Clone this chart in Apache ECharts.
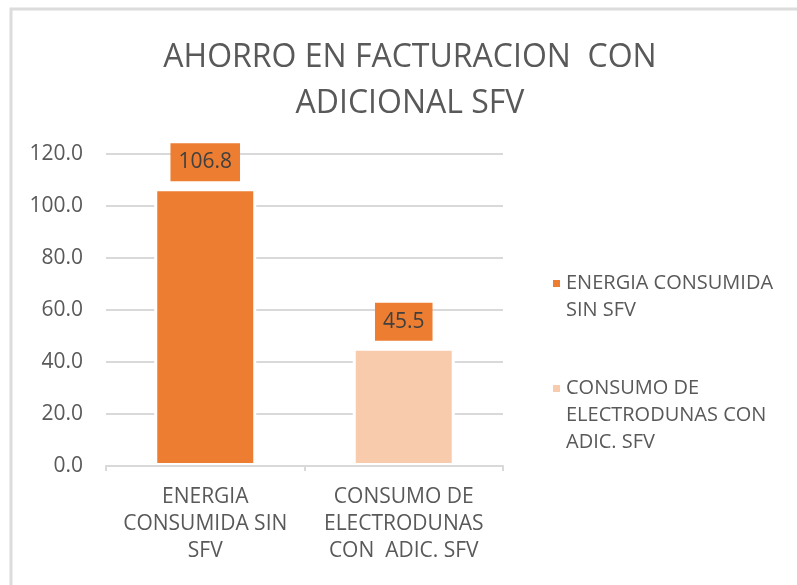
<!DOCTYPE html>
<html>
<head>
<meta charset="utf-8">
<script src="https://cdn.jsdelivr.net/npm/echarts@6/dist/echarts.min.js"></script>
<style>
html,body{margin:0;padding:0;background:#fff;}
#c{width:797px;height:585px;}
</style>
</head>
<body>
<div id="c"></div>
<script>
const titleText = 'AHORRO EN FACTURACION  CON\nADICIONAL SFV';
const categories = ['ENERGIA\nCONSUMIDA SIN\nSFV', 'CONSUMO DE\nELECTRODUNAS\nCON  ADIC. SFV'];
const seriesNames = ['ENERGIA CONSUMIDA SIN SFV', 'CONSUMO DE ELECTRODUNAS CON ADIC. SFV'];
const legendLabels = ['ENERGIA CONSUMIDA\nSIN SFV', 'CONSUMO DE\nELECTRODUNAS CON\nADIC. SFV'];
const values = [106.8, 45.5];
const colors = ['#ED7D31', '#F8CBAD'];
const yTicks = [0, 20, 40, 60, 80, 100, 120];

const FONT = '"Open Sans", sans-serif';
const TXT = '#595959';

const chart = echarts.init(document.getElementById('c'), null, {renderer: 'canvas'});

function legendFmt(name) {
  const idx = seriesNames.indexOf(name);
  const lbl = legendLabels[idx];
  const n = lbl.split('\n').length;
  return '\n'.repeat(n - 1) + lbl;
}

const series = seriesNames.map((name, i) => ({
  name: name,
  type: 'bar',
  stack: 'total',
  barWidth: 102,
  data: categories.map((c, j) => (j === i ? values[i] : '-')),
  itemStyle: {color: colors[i], borderColor: '#ffffff', borderWidth: 3},
  label: {
    show: true,
    position: 'top',
    distance: 7,
    formatter: p => Number(p.value).toFixed(1),
    backgroundColor: '#ED7D31',
    padding: [8, 8],
    color: '#404040',
    fontFamily: FONT,
    fontSize: 21,
    lineHeight: 22
  }
}));

chart.setOption({
  animation: false,
  backgroundColor: '#ffffff',
  graphic: [{
    type: 'rect',
    shape: {x: 11, y: 9, width: 820, height: 620},
    style: {fill: 'none', stroke: '#dcdcdc', lineWidth: 3},
    silent: true,
    z: -10
  }],
  title: {
    text: titleText,
    left: 410,
    textAlign: 'center',
    top: 35,
    padding: 0,
    textStyle: {fontFamily: FONT, fontSize: 32, fontWeight: 'normal', color: TXT, lineHeight: 46}
  },
  legend: [
    {
      data: [seriesNames[0]],
      orient: 'vertical',
      left: 551,
      top: 243,
      padding: 0,
      icon: 'rect',
      itemWidth: 9,
      itemHeight: 9,
      formatter: legendFmt,
      selectedMode: false,
      textStyle: {fontFamily: FONT, fontSize: 20, color: TXT, lineHeight: 27}
    },
    {
      data: [seriesNames[1]],
      orient: 'vertical',
      left: 551,
      top: 321,
      padding: 0,
      icon: 'rect',
      itemWidth: 9,
      itemHeight: 9,
      formatter: legendFmt,
      selectedMode: false,
      textStyle: {fontFamily: FONT, fontSize: 20, color: TXT, lineHeight: 27}
    }
  ],
  grid: {left: 106, right: 294, top: 154, bottom: 119, containLabel: false},
  xAxis: {
    type: 'category',
    data: categories,
    z: 5,
    axisLine: {lineStyle: {color: '#d9d9d9', width: 2}},
    axisTick: {show: true, length: 5, lineStyle: {color: '#d9d9d9', width: 2}},
    axisLabel: {fontFamily: FONT, fontSize: 21, color: TXT, lineHeight: 27, margin: 18, interval: 0}
  },
  yAxis: {
    type: 'value',
    min: yTicks[0],
    max: yTicks[yTicks.length - 1],
    interval: 20,
    axisLine: {show: false},
    axisTick: {show: false},
    splitLine: {lineStyle: {color: '#d9d9d9', width: 2}},
    axisLabel: {fontFamily: FONT, fontSize: 21, color: TXT, margin: 23, formatter: v => v.toFixed(1)}
  },
  series: series
});
</script>
</body>
</html>
